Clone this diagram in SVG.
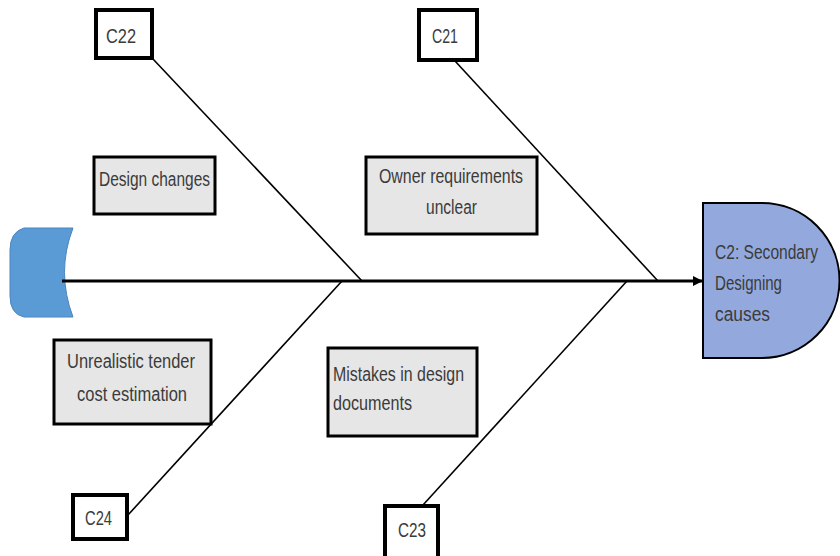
<svg xmlns="http://www.w3.org/2000/svg" width="840" height="556" viewBox="0 0 840 556">
<style>
.t{font-family:"Liberation Sans",Arial,sans-serif;font-size:19.5px;fill:#3b3b3b}
.cb{fill:#fff;stroke:#000;stroke-width:4}
.gb{fill:#e6e6e6;stroke:#000;stroke-width:3}
.ln{stroke:#000;stroke-width:1.6;fill:none}
</style>
<defs>
<marker id="ah" markerWidth="10" markerHeight="10" refX="9" refY="5" orient="auto" markerUnits="userSpaceOnUse">
<path d="M0,0 L10,5 L0,10 Z" fill="#000"/>
</marker>
</defs>
<g id="tail">
<path d="M73,228 L24,228 Q10,232 10,250 L10,296 Q10,314 24,317 L73,317 Q56,272 73,228 Z" fill="#5b9bd5" stroke="#4a86c0" stroke-width="1"/>
</g>
<g id="connectors">
<line x1="62" y1="281" x2="702" y2="281" stroke="#000" stroke-width="3" marker-end="url(#ah)"/>
<line class="ln" x1="153" y1="59" x2="362" y2="281"/>
<line class="ln" x1="455" y1="61" x2="658" y2="281"/>
<line class="ln" x1="128" y1="515" x2="342" y2="281"/>
<line class="ln" x1="423" y1="505" x2="627" y2="281"/>
</g>
<g id="head">
<path d="M703,203 H762 A77.5,77.5 0 0 1 762,358 H703 Z" fill="#93a9dd" stroke="#000" stroke-width="2"/>
<text class="t" x="715" y="259" textLength="103" lengthAdjust="spacingAndGlyphs">C2: Secondary</text>
<text class="t" x="715" y="290" textLength="67" lengthAdjust="spacingAndGlyphs">Designing</text>
<text class="t" x="715" y="321" textLength="55" lengthAdjust="spacingAndGlyphs">causes</text>
</g>
<g id="c22">
<rect class="cb" x="96" y="10" width="56" height="48"/>
<text class="t" x="106" y="43" textLength="30" lengthAdjust="spacingAndGlyphs">C22</text>
</g>
<g id="c21">
<rect class="cb" x="419" y="10" width="58" height="50"/>
<text class="t" x="432" y="43" textLength="26" lengthAdjust="spacingAndGlyphs">C21</text>
</g>
<g id="c24">
<rect class="cb" x="73" y="495" width="54" height="44"/>
<text class="t" x="85" y="525" textLength="27" lengthAdjust="spacingAndGlyphs">C24</text>
</g>
<g id="c23">
<rect class="cb" x="385" y="506" width="53" height="56"/>
<text class="t" x="398" y="537" textLength="28" lengthAdjust="spacingAndGlyphs">C23</text>
</g>
<g id="design-changes">
<rect class="gb" x="94" y="157" width="121" height="57"/>
<text class="t" x="99" y="186" textLength="111" lengthAdjust="spacingAndGlyphs">Design changes</text>
</g>
<g id="owner-requirements">
<rect class="gb" x="366" y="157" width="171" height="77"/>
<text class="t" x="379" y="183" textLength="144" lengthAdjust="spacingAndGlyphs">Owner requirements</text>
<text class="t" x="426" y="214" textLength="51" lengthAdjust="spacingAndGlyphs">unclear</text>
</g>
<g id="unrealistic-tender">
<rect class="gb" x="54" y="340" width="157" height="84"/>
<text class="t" x="67" y="368" textLength="128" lengthAdjust="spacingAndGlyphs">Unrealistic tender</text>
<text class="t" x="77" y="401" textLength="110" lengthAdjust="spacingAndGlyphs">cost estimation</text>
</g>
<g id="mistakes">
<rect class="gb" x="328" y="348" width="149" height="88"/>
<text class="t" x="333" y="381" textLength="131" lengthAdjust="spacingAndGlyphs">Mistakes in design</text>
<text class="t" x="333" y="410" textLength="79" lengthAdjust="spacingAndGlyphs">documents</text>
</g>
</svg>
